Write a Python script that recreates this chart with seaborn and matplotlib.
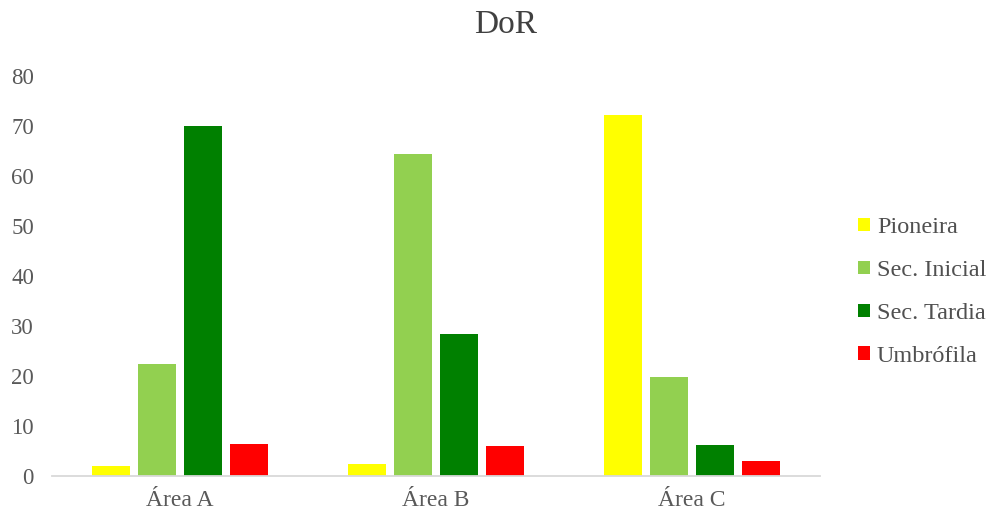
import matplotlib
matplotlib.use("Agg")
import matplotlib.pyplot as plt
import seaborn as sns
import pandas as pd

areas = ["Área A", "Área B", "Área C"]
grupos = ["Pioneira", "Sec. Inicial", "Sec. Tardia", "Umbrófila"]
pioneira = [1.9, 2.4, 72.1]
sec_inicial = [22.4, 64.3, 19.7]
sec_tardia = [70.0, 28.3, 6.1]
umbrofila = [6.3, 5.9, 2.9]
cores = ["#FFFF00", "#92D050", "#008000", "#FF0000"]
yticks = [0, 10, 20, 30, 40, 50, 60, 70, 80]

series = [pioneira, sec_inicial, sec_tardia, umbrofila]
rows = []
for g, vals in zip(grupos, series):
    for a, v in zip(areas, vals):
        rows.append({"area": a, "grupo": g, "valor": v})
df = pd.DataFrame(rows)

sns.set_theme(style="white")
plt.rcParams["font.family"] = ["Liberation Serif", "DejaVu Serif"]

fig = plt.figure(figsize=(9.96, 5.15), dpi=100)
ax = fig.add_axes([52/996, 1-476/515, (820-52)/996, (476-75.7)/515])

sns.barplot(data=df, x="area", y="valor", hue="grupo", order=areas,
            hue_order=grupos, palette=cores, saturation=1, width=0.72,
            gap=0.17, linewidth=0, ax=ax, errorbar=None)

ax.set_xlim(-0.5, 2.5)
ax.set_ylim(0, 80)
ax.set_yticks(yticks)
ax.set_yticklabels([str(t) for t in yticks])
ax.set_xlabel("")
ax.set_ylabel("")
for s in ["left", "top", "right"]:
    ax.spines[s].set_visible(False)
ax.spines["bottom"].set_color("#D9D9D9")
ax.spines["bottom"].set_linewidth(1.3)
ax.tick_params(axis="y", length=0, pad=13, labelsize=16.5, labelcolor="#595959")
ax.tick_params(axis="x", length=0, pad=10, labelsize=17, labelcolor="#595959")
ax.grid(False)

fig.text(506/996, 1-25/515, "DoR", ha="center", va="center", fontsize=24,
         color="#404040")

h, l = ax.get_legend_handles_labels()
ax.legend(h, l, loc="center left", bbox_to_anchor=(858/996, 1-292/515),
          bbox_transform=fig.transFigure, frameon=False, fontsize=17.5,
          handlelength=0.48, handleheight=0.48, handletextpad=0.3,
          labelspacing=0.9, borderpad=0, borderaxespad=0,
          labelcolor="#505050")

fig.savefig("out.png", dpi=100)
